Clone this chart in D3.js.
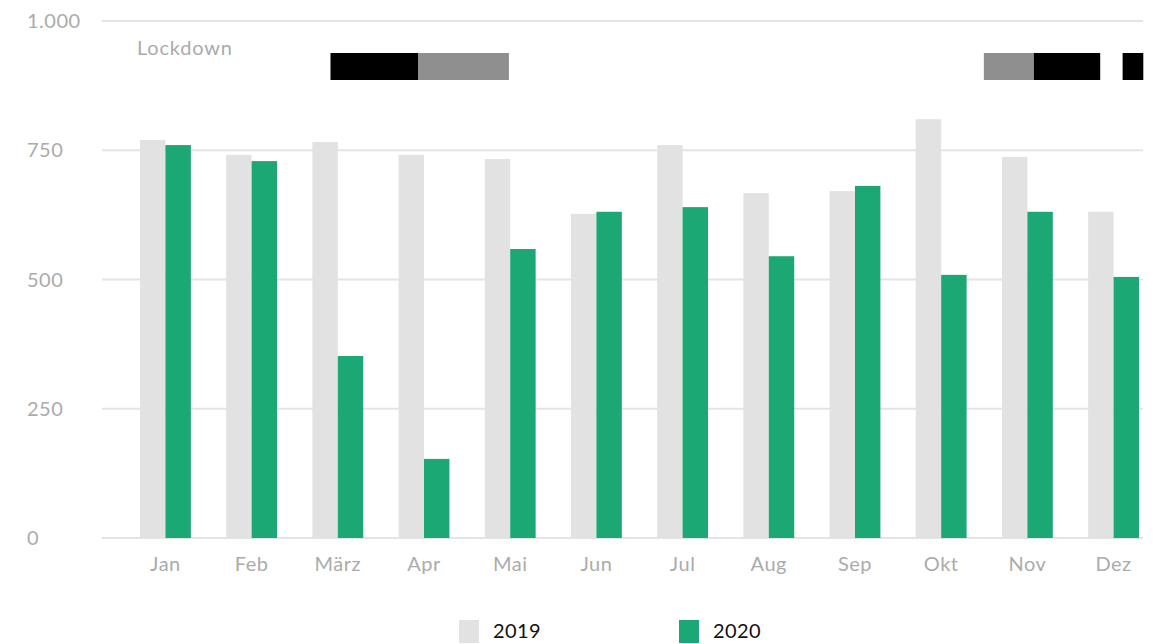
<!DOCTYPE html>
<html>
<head>
<meta charset="utf-8">
<script src="https://cdn.jsdelivr.net/npm/d3@7"></script>
<style>
  body { margin: 0; background: #fff; }
  svg { display: block; font-family: "Lato", "Open Sans", sans-serif; }
</style>
</head>
<body>
<script>
var width = 1159;
var height = 644;

// data
var months = ["Jan", "Feb", "März", "Apr", "Mai", "Jun", "Jul", "Aug", "Sep", "Okt", "Nov", "Dez"];
var years = ["2019", "2020"];
var values2019 = [770, 741, 766, 741, 733, 627, 760, 667, 671, 810, 737, 631];
var values2020 = [760, 729, 352, 153, 559, 631, 640, 545, 681, 509, 631, 505];
var yTicks = [0, 250, 500, 750, 1000];
// lockdown periods in month units (0 = start of Jan)
var lockStart = [2.21, 3.23, 9.79, 10.37, 11.40];
var lockEnd = [3.23, 4.28, 10.37, 11.14, 11.64];
var lockType = ["hart", "leicht", "leicht", "hart", "hart"];

var colors = { "2019": "#e2e2e2", "2020": "#1ca874" };
var lockColors = { "hart": "#000000", "leicht": "#8f8f8f" };

var de = d3.formatLocale({ decimal: ",", thousands: ".", grouping: [3], currency: ["", " €"] });
var fmt = de.format(",");

var gridLeft = 102, gridRight = 1143;
var plotTop = 21, plotBottom = 538;

var svg = d3.select("body")
  .append("svg")
  .attr("width", width)
  .attr("height", height);

var y = d3.scaleLinear()
  .domain([0, 1000])
  .range([plotBottom, plotTop]);

var x = d3.scaleBand()
  .domain(months)
  .range([140, 1139])
  .paddingInner(0.41)
  .paddingOuter(0);

var xSub = d3.scaleBand()
  .domain(years)
  .range([0, x.bandwidth()])
  .padding(0);

// month position scale for the lockdown strips
var xMonth = d3.scaleLinear()
  .domain([0, 12])
  .range([140, 140 + 12 * x.step()]);

// gridlines
svg.selectAll("line.grid")
  .data(yTicks)
  .enter()
  .append("line")
  .attr("class", "grid")
  .attr("x1", gridLeft)
  .attr("x2", gridRight)
  .attr("y1", function(d) { return y(d); })
  .attr("y2", function(d) { return y(d); })
  .attr("stroke", "#e4e4e4")
  .attr("stroke-width", 2);

// y labels
svg.selectAll("text.ytick")
  .data(yTicks)
  .enter()
  .append("text")
  .attr("class", "ytick")
  .attr("x", 27)
  .attr("y", function(d) { return y(d); })
  .attr("dy", "0.35em")
  .attr("font-size", "20px")
  .attr("letter-spacing", "0.5px")
  .attr("fill", "#ababab")
  .text(function(d) { return fmt(d); });

// bars
var rows = months.map(function(m, i) {
  return { month: m, "2019": values2019[i], "2020": values2020[i] };
});

var groups = svg.selectAll("g.month")
  .data(rows)
  .enter()
  .append("g")
  .attr("class", "month")
  .attr("transform", function(d) { return "translate(" + x(d.month) + ",0)"; });

groups.selectAll("rect")
  .data(function(d) { return years.map(function(k) { return { key: k, value: d[k] }; }); })
  .enter()
  .append("rect")
  .attr("x", function(d) { return xSub(d.key); })
  .attr("width", xSub.bandwidth())
  .attr("y", function(d) { return y(d.value); })
  .attr("height", function(d) { return y(0) - y(d.value); })
  .attr("fill", function(d) { return colors[d.key]; });

// x labels
svg.selectAll("text.xtick")
  .data(months)
  .enter()
  .append("text")
  .attr("class", "xtick")
  .attr("x", function(d) { return x(d) + x.bandwidth() / 2; })
  .attr("y", 564)
  .attr("dy", "0.35em")
  .attr("text-anchor", "middle")
  .attr("font-size", "20px")
  .attr("letter-spacing", "0.5px")
  .attr("fill", "#ababab")
  .text(function(d) { return d; });

// lockdown strips
svg.append("text")
  .attr("x", 137)
  .attr("y", 48)
  .attr("dy", "0.35em")
  .attr("font-size", "20px")
  .attr("letter-spacing", "0.8px")
  .attr("fill", "#ababab")
  .text("Lockdown");

svg.selectAll("rect.lock")
  .data(lockStart)
  .enter()
  .append("rect")
  .attr("class", "lock")
  .attr("x", function(d) { return xMonth(d); })
  .attr("width", function(d, i) { return xMonth(lockEnd[i]) - xMonth(d); })
  .attr("y", 53)
  .attr("height", 27)
  .attr("fill", function(d, i) { return lockColors[lockType[i]]; });

// legend
var legend = svg.selectAll("g.legend")
  .data(years)
  .enter()
  .append("g")
  .attr("class", "legend")
  .attr("transform", function(d, i) { return "translate(" + (459 + i * 220) + ",620)"; });

legend.append("rect")
  .attr("width", 20)
  .attr("height", 23)
  .attr("fill", function(d) { return colors[d]; });

legend.append("text")
  .attr("x", 34)
  .attr("y", 11)
  .attr("dy", "0.35em")
  .attr("font-size", "20px")
  .attr("letter-spacing", "0.4px")
  .attr("fill", "#111")
  .text(function(d) { return d; });
</script>
</body>
</html>
